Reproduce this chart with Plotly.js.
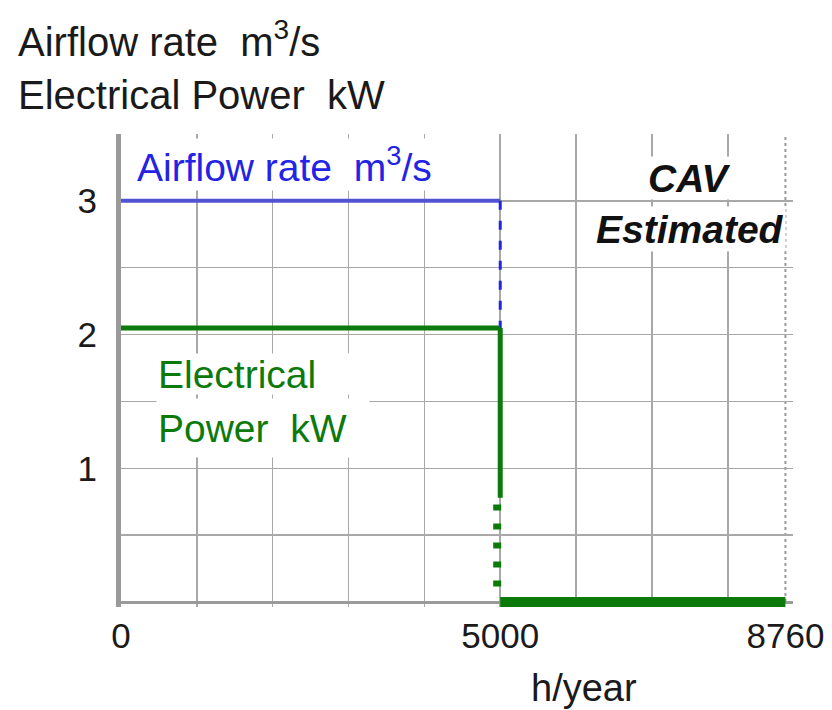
<!DOCTYPE html>
<html>
<head>
<meta charset="utf-8">
<script src="https://cdn.plot.ly/plotly-3.0.1.min.js"></script>
<style>html,body{margin:0;padding:0;background:#fff;}#chart{width:832px;height:710px;}</style>
</head>
<body>
<div id="chart"></div>
<script>
// ---- data ----
const stepHour = 5000;
const yearHours = 8760;
const airflowOnX = [0, 5000];
const airflowOnY = [3, 3];
const airflowDropX = [5000, 5000];
const airflowDropY = [3, 2.05];
const powerOnX = [0, 5000];
const powerOnY = [2.05, 2.05];
const powerDropX = [5000, 5000];
const powerDropY = [2.05, 0.78];
const powerDotX = [4960, 4960];
const powerDotY = [0.73, 0.08];
const powerOffX = [5000, 8760];
const powerOffY = [0, 0];
const xTickVals = [0, 5000, 8760];
const xTickText = ['0', '5000', '8760'];
const yTickVals = [1, 2, 3];
const yTickText = ['1', '2', '3'];

const FONT = 'Liberation Sans, Arial, sans-serif';
const BLUE = '#5252d2';
const BLUE_D = '#2323e6';
const GREEN = '#0b7a0b';
const GRID = '#a8a8a8';

const yMin = -0.0374, yMax = 3.5;

const traces = [
  {x: airflowOnX, y: airflowOnY, mode: 'lines', line: {color: BLUE, width: 4}, hoverinfo: 'skip'},
  {x: airflowDropX, y: airflowDropY, mode: 'lines', line: {color: BLUE_D, width: 3, dash: '9px,11px'}, hoverinfo: 'skip'},
  {x: powerOnX, y: powerOnY, mode: 'lines', line: {color: GREEN, width: 5}, hoverinfo: 'skip'},
  {x: powerDropX, y: powerDropY, mode: 'lines', line: {color: GREEN, width: 5}, hoverinfo: 'skip'},
  {x: powerDotX, y: powerDotY, mode: 'lines', line: {color: GREEN, width: 8, dash: '6px,13px'}, hoverinfo: 'skip'},
  {x: powerOffX, y: powerOffY, mode: 'lines', line: {color: GREEN, width: 10}, hoverinfo: 'skip'}
];

const layout = {
  width: 832, height: 710,
  margin: {l: 121, r: 39, t: 134, b: 103, pad: 0},
  paper_bgcolor: '#fff', plot_bgcolor: '#fff',
  showlegend: false,
  font: {family: FONT, size: 35, color: '#1a1a1a'},
  xaxis: {
    range: [0, 8860], tickvals: xTickVals, ticktext: xTickText,
    showgrid: false, zeroline: false, ticks: '',
    showline: true, linecolor: '#9a9a9a', linewidth: 3,
    anchor: 'free', position: (0 - yMin) / (yMax - yMin),
    ticklabelstandoff: 2,
    tickfont: {family: FONT, size: 35, color: '#1a1a1a'},
    minor: {dtick: 1000, tick0: 0, showgrid: true, gridcolor: GRID, gridwidth: 1.5},
    layer: 'below traces', fixedrange: true
  },
  yaxis: {
    range: [yMin, yMax], tickvals: yTickVals, ticktext: yTickText,
    showgrid: false, zeroline: false, ticks: '',
    showline: true, linecolor: '#9a9a9a', linewidth: 5,
    ticklabelstandoff: 12,
    tickfont: {family: FONT, size: 35, color: '#1a1a1a'},
    minor: {dtick: 0.5, tick0: 0, showgrid: true, gridcolor: GRID, gridwidth: 1.5},
    layer: 'below traces', fixedrange: true
  },
  shapes: [
    {type: 'line', xref: 'x', yref: 'y', x0: yearHours, x1: yearHours, y0: 0, y1: yMax,
     line: {color: '#9a9a9a', width: 2, dash: 'dot'}, layer: 'below'}
  ],
  annotations: [
    {xref: 'paper', yref: 'paper', x: (16-121)/672, y: (607-39)/473, xanchor: 'left', yanchor: 'middle',
     text: 'Airflow rate  m<sup>3</sup>/s', showarrow: false, font: {family: FONT, size: 40, color: '#1a1a1a'}},
    {xref: 'paper', yref: 'paper', x: (16-121)/672, y: (607-95)/473, xanchor: 'left', yanchor: 'middle',
     text: 'Electrical Power  kW', showarrow: false, font: {family: FONT, size: 40, color: '#1a1a1a'}},
    {xref: 'paper', yref: 'paper', x: (135-121)/672, y: (607-165)/473, xanchor: 'left', yanchor: 'middle',
     text: 'Airflow rate  m<sup>3</sup>/s', showarrow: false, bgcolor: '#fff',
     font: {family: FONT, size: 39, color: BLUE_D}},
    {xref: 'paper', yref: 'paper', x: (156-121)/672, y: (607-374)/473, xanchor: 'left', yanchor: 'middle',
     text: 'Electrical', showarrow: false, bgcolor: '#fff', width: 210, height: 38, align: 'left',
     font: {family: FONT, size: 39, color: GREEN}},
    {xref: 'paper', yref: 'paper', x: (156-121)/672, y: (607-428)/473, xanchor: 'left', yanchor: 'middle',
     text: 'Power  kW', showarrow: false, bgcolor: '#fff', width: 210, height: 56, align: 'left',
     font: {family: FONT, size: 39, color: GREEN}},
    {xref: 'paper', yref: 'paper', x: (689-121)/672, y: (607-178)/473, xanchor: 'center', yanchor: 'middle',
     text: '<b><i>CAV</i></b>', showarrow: false, bgcolor: '#fff', height: 40,
     font: {family: FONT, size: 39, color: '#111'}},
    {xref: 'paper', yref: 'paper', x: (690-121)/672, y: (607-229)/473, xanchor: 'center', yanchor: 'middle',
     text: '<b><i>Estimated</i></b>', showarrow: false, bgcolor: '#fff', height: 42,
     font: {family: FONT, size: 39, color: '#111'}},
    {xref: 'paper', yref: 'paper', x: (584-121)/672, y: (607-688)/473, xanchor: 'center', yanchor: 'middle',
     text: 'h/year', showarrow: false, font: {family: FONT, size: 38, color: '#1a1a1a'}}
  ]
};

Plotly.newPlot('chart', traces, layout, {staticPlot: true, displayModeBar: false});
</script>
</body>
</html>
